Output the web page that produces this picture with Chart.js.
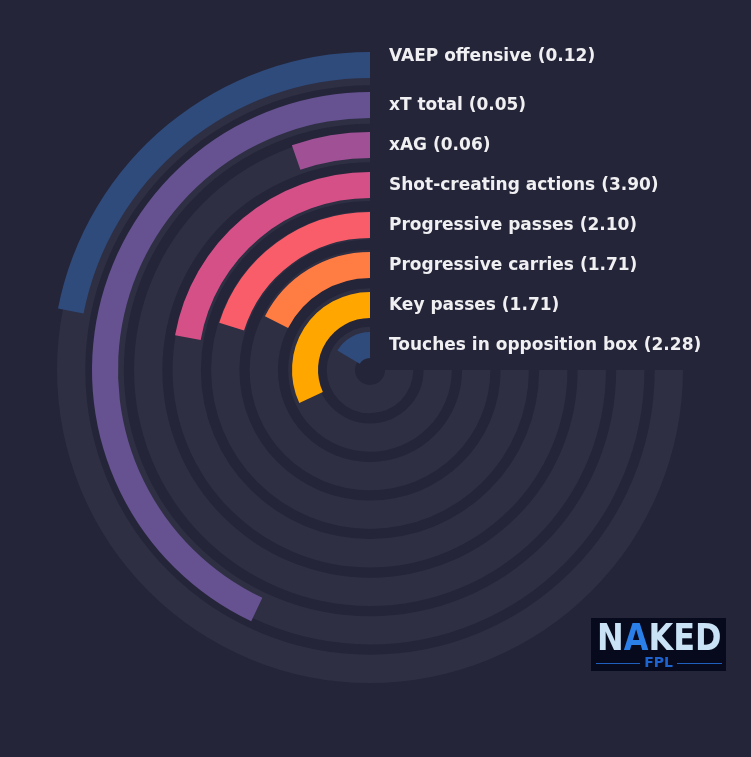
<!DOCTYPE html>
<html>
<head>
<meta charset="utf-8">
<script src="https://cdn.jsdelivr.net/npm/chart.js@4.4.1/dist/chart.umd.min.js"></script>
<style>
  html, body { margin: 0; padding: 0; background: #242539; }
  #wrap { position: relative; width: 751px; height: 757px; }
  #wrap canvas { position: absolute; left: 0; top: 0; }
</style>
</head>
<body>
<div id="wrap">
  <canvas id="tracks" width="751" height="757"></canvas>
  <canvas id="bars" width="751" height="757"></canvas>
</div>
<script>
// outer ring -> inner ring
var categories = ["VAEP offensive", "xT total", "xAG", "Shot-creating actions",
                  "Progressive passes", "Progressive carries", "Key passes",
                  "Touches in opposition box"];
var rawValues = [0.12, 0.05, 0.06, 3.90, 2.10, 1.71, 1.71, 2.28];
// percentile rank, drives the bar length (full track = 100)
var percentiles = [29.2, 57.3, 7.1, 29.6, 26.9, 23.3, 42.6, 21.9];
var barColors = ["#2f4b7c", "#665191", "#a05195", "#d45087",
                 "#f95d6a", "#ff7c43", "#ffa600", "#2f4b7c"];

var TRACK = "#2e2f43";
var CLEAR = "rgba(0,0,0,0)";

// one dataset per ring, with a see-through spacer dataset between rings
function ringSets(ringWeight, gapWeight, makeRing) {
    var sets = [];
    categories.forEach(function (cat, i) {
        var ds = makeRing(i);
        ds.weight = ringWeight;
        ds.ring = i;
        sets.push(ds);
        if (i < categories.length - 1) {
            sets.push({ data: [1], backgroundColor: [CLEAR], weight: gapWeight });
        }
    });
    return sets;
}

function baseOptions(outerR, innerR) {
    return {
        responsive: false,
        animation: false,
        events: [],
        rotation: 90,
        circumference: 270,
        radius: outerR,
        cutout: (innerR / outerR * 100) + "%",
        layout: { padding: { left: 0, top: 0, right: 11, bottom: 17 } },
        elements: { arc: { borderWidth: 0 } },
        plugins: { legend: { display: false }, tooltip: { enabled: false } },
    };
}

// background tracks
new Chart(document.getElementById("tracks"), {
    type: "doughnut",
    data: {
        datasets: ringSets(28.3, 10.2, function () {
            return { data: [1], backgroundColor: [TRACK] };
        }),
    },
    options: baseOptions(313, 15),
});

var ringLabels = {
    id: "ringLabels",
    afterDatasetsDraw: function (chart) {
        var ctx = chart.ctx;
        ctx.save();
        ctx.font = 'bold 17px "DejaVu Sans"';
        ctx.fillStyle = "#f0f0f2";
        ctx.textAlign = "left";
        ctx.textBaseline = "middle";
        chart.data.datasets.forEach(function (ds, di) {
            if (ds.ring === undefined) return;
            var arc = chart.getDatasetMeta(di).data[1];
            var r = (arc.outerRadius + arc.innerRadius) / 2;
            var y = arc.y - r + (ds.ring === 0 ? -8 : 1);
            var txt = categories[ds.ring] + " (" + rawValues[ds.ring].toFixed(2) + ")";
            ctx.fillText(txt, arc.x + 19, y);
        });
        ctx.restore();
    },
};

var logo = {
    id: "logo",
    afterDraw: function (chart) {
        var ctx = chart.ctx;
        ctx.save();
        ctx.fillStyle = "#060a1c";
        ctx.fillRect(591, 618, 135, 53);
        // NAKED
        ctx.translate(597, 650);
        ctx.scale(0.84, 1);
        ctx.font = 'bold 38px "DejaVu Sans"';
        ctx.textBaseline = "alphabetic";
        var x = 0;
        "NAKED".split("").forEach(function (ch) {
            ctx.fillStyle = ch === "A" ? "#2a80e8" : "#c9e2f5";
            ctx.fillText(ch, x, 0);
            x += ctx.measureText(ch).width;
        });
        ctx.restore();
        // FPL with rules
        ctx.save();
        ctx.strokeStyle = "#1f5fc0";
        ctx.lineWidth = 1;
        ctx.beginPath();
        ctx.moveTo(596, 663.5); ctx.lineTo(640, 663.5);
        ctx.moveTo(677, 663.5); ctx.lineTo(722, 663.5);
        ctx.stroke();
        ctx.fillStyle = "#1e64d0";
        ctx.font = 'bold 14px "DejaVu Sans"';
        ctx.textAlign = "center";
        ctx.textBaseline = "middle";
        ctx.fillText("FPL", 658.5, 663);
        ctx.restore();
    },
};

// value bars
new Chart(document.getElementById("bars"), {
    type: "doughnut",
    data: {
        datasets: ringSets(26, 14, function (i) {
            return {
                data: [100 - percentiles[i], percentiles[i]],
                backgroundColor: [CLEAR, barColors[i]],
            };
        }),
    },
    options: baseOptions(318, 12),
    plugins: [ringLabels, logo],
});
</script>
</body>
</html>
